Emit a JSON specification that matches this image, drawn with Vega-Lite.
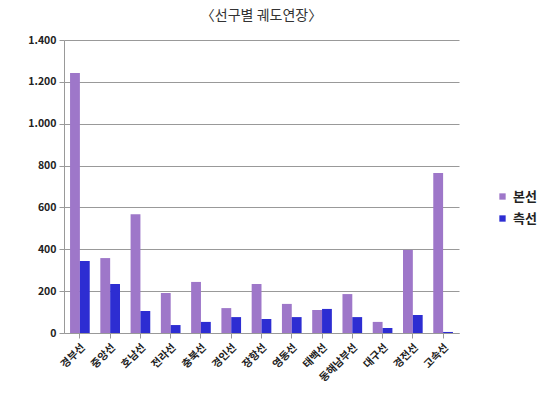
{
  "$schema": "https://vega.github.io/schema/vega-lite/v6.json",
  "width": 395,
  "height": 293,
  "padding": {"left": 27, "top": 9, "right": 5, "bottom": 5},
  "config": {
    "locale": {"number": {"decimal": ",", "thousands": ".", "grouping": [3], "currency": ["", ""]}},
    "font": "Noto Sans CJK KR",
    "view": {"stroke": null},
    "axis": {"labelFont": "Noto Sans CJK KR", "labelColor": "#222", "labelFontSize": 10.5, "labelFontWeight": "bold"}
  },
  "title": {"text": "〈선구별 궤도연장〉", "fontSize": 14, "font": "Noto Sans CJK KR", "fontWeight": "normal", "color": "#333", "anchor": "middle", "offset": 12},
  "data": {"values": [
    {"line": "경부선", "type": "본선", "km": 1242}, {"line": "경부선", "type": "측선", "km": 344},
    {"line": "중앙선", "type": "본선", "km": 358}, {"line": "중앙선", "type": "측선", "km": 234},
    {"line": "호남선", "type": "본선", "km": 568}, {"line": "호남선", "type": "측선", "km": 105},
    {"line": "전라선", "type": "본선", "km": 191}, {"line": "전라선", "type": "측선", "km": 38},
    {"line": "충북선", "type": "본선", "km": 244}, {"line": "충북선", "type": "측선", "km": 53},
    {"line": "경인선", "type": "본선", "km": 119}, {"line": "경인선", "type": "측선", "km": 76},
    {"line": "장항선", "type": "본선", "km": 234}, {"line": "장항선", "type": "측선", "km": 67},
    {"line": "영동선", "type": "본선", "km": 139}, {"line": "영동선", "type": "측선", "km": 76},
    {"line": "태백선", "type": "본선", "km": 110}, {"line": "태백선", "type": "측선", "km": 115},
    {"line": "동해남부선", "type": "본선", "km": 186}, {"line": "동해남부선", "type": "측선", "km": 76},
    {"line": "대구선", "type": "본선", "km": 53}, {"line": "대구선", "type": "측선", "km": 24},
    {"line": "경전선", "type": "본선", "km": 397}, {"line": "경전선", "type": "측선", "km": 86},
    {"line": "고속선", "type": "본선", "km": 765}, {"line": "고속선", "type": "측선", "km": 5}
  ]},
  "mark": {"type": "bar"},
  "encoding": {
    "x": {"field": "line", "type": "nominal", "sort": null, "title": null,
      "scale": {"paddingInner": 0.35, "paddingOuter": 0.2},
      "axis": {"labelAngle": -45, "domainColor": "#999", "tickColor": "#999", "ticks": true, "labelPadding": 4}},
    "xOffset": {"field": "type", "type": "nominal", "sort": ["본선", "측선"]},
    "y": {"field": "km", "type": "quantitative", "title": null,
      "scale": {"domain": [0, 1400]},
      "axis": {"values": [0, 200, 400, 600, 800, 1000, 1200, 1400], "format": ",d", "gridColor": "#999", "gridWidth": 1, "domainColor": "#999", "tickColor": "#999", "labelPadding": 3}},
    "color": {"field": "type", "type": "nominal", "sort": ["본선", "측선"],
      "scale": {"domain": ["본선", "측선"], "range": ["#9E77C9", "#2D2DD2"]},
      "legend": {"title": null, "orient": "none", "legendX": 432, "legendY": 150, "symbolType": "square", "symbolSize": 40, "labelFontSize": 13, "labelFontWeight": "bold", "labelColor": "#222", "rowPadding": 8}}
  }
}
